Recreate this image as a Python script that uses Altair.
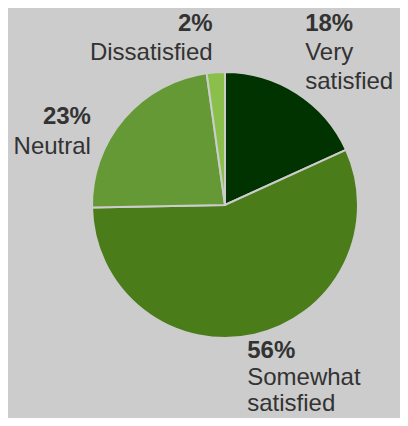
import altair as alt
import pandas as pd

categories = ["Very satisfied", "Somewhat satisfied", "Neutral", "Dissatisfied"]
values = [18.2, 56.5, 23.1, 2.2]
pct_labels = ["18%", "56%", "23%", "2%"]
name_labels = ["Very\nsatisfied", "Somewhat\nsatisfied", "Neutral", "Dissatisfied"]
colors = ["#003300", "#4a7c1a", "#659935", "#8bbf4b"]

df = pd.DataFrame({
    "category": categories,
    "value": values,
    "pct": pct_labels,
    "name": name_labels,
    "order": list(range(len(categories))),
})

CX, CY = 217, 197
R = 133
LR = 150
TOTAL = float(sum(values))
theta_scale = alt.Scale(domain=[0, TOTAL])

pie = alt.Chart(df).mark_arc(outerRadius=R, stroke="#cccccc", strokeWidth=2).encode(
    theta=alt.Theta("value:Q", stack=True, scale=theta_scale),
    order=alt.Order("order:Q"),
    color=alt.Color("category:N", scale=alt.Scale(domain=categories, range=colors), legend=None),
    x=alt.value(CX),
    y=alt.value(CY),
)

label_base = alt.Chart(df).transform_window(
    cum="sum(value)", sort=[alt.SortField("order")], frame=[None, 0]
).transform_calculate(
    mid="datum.cum - datum.value / 2"
).encode(
    theta=alt.Theta("mid:Q", stack=False, scale=theta_scale),
    x=alt.value(CX),
    y=alt.value(CY),
)

# label layout: (category, align, dx, pct_dy, name_dy, line_height)
layout = [
    ("Very satisfied", "left", -1, -48, -19, 29),
    ("Somewhat satisfied", "left", -11, 7, 34, 26),
    ("Neutral", "right", -20, 16, 46, 29),
    ("Dissatisfied", "right", -2, -24, 5, 29),
]

layers = [pie]
for cat, align, dx, pdy, ndy, lh in layout:
    sub = label_base.transform_filter(alt.datum.category == cat)
    layers.append(sub.mark_text(radius=LR, align=align, baseline="alphabetic", dx=dx, dy=pdy,
                                font="Liberation Sans", fontSize=24, fontWeight="bold",
                                color="#333333").encode(text="pct:N"))
    layers.append(sub.mark_text(radius=LR, align=align, baseline="alphabetic", dx=dx, dy=ndy,
                                font="Liberation Sans", fontSize=24, lineBreak="\n", lineHeight=lh,
                                color="#333333").encode(text="name:N"))

chart = alt.layer(*layers).properties(
    width=392, height=410, background="#cccccc", padding=0,
    autosize=alt.AutoSizeParams(type="none"),
).configure_view(stroke=None)

chart.save("out.html", embed_options={"renderer": "svg", "actions": False})
